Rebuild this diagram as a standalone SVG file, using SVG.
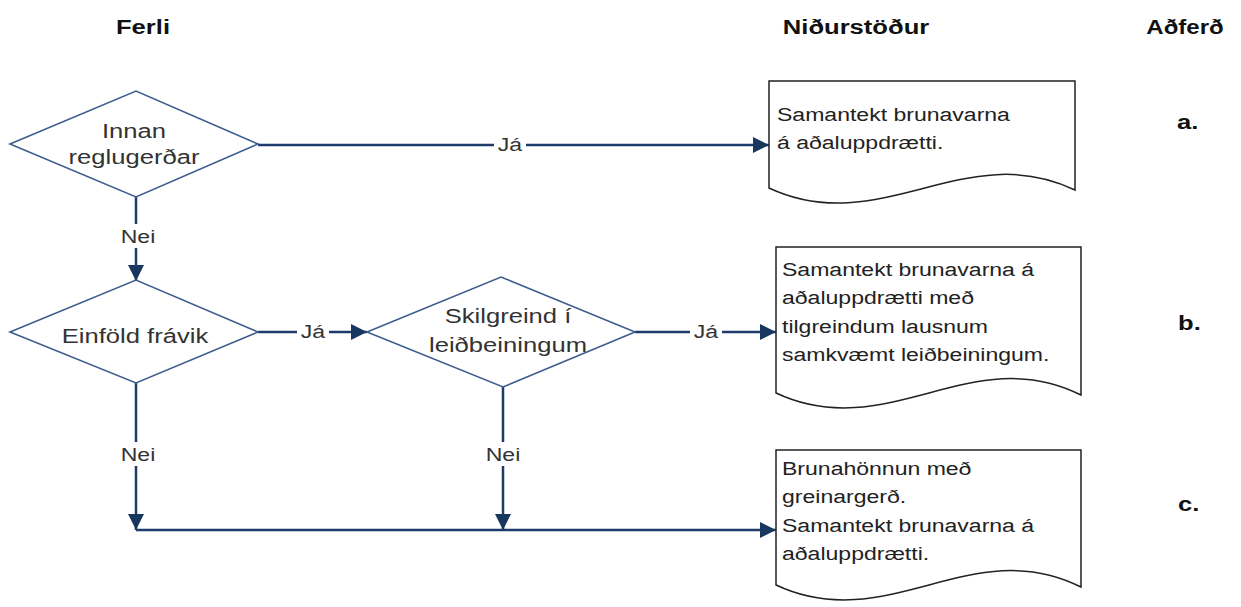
<svg xmlns="http://www.w3.org/2000/svg" width="1241" height="607" viewBox="0 0 1241 607">
  <style>
    .hdr { font-family: "Liberation Sans", Arial, sans-serif; font-weight: bold; font-size: 20px; fill: #111; }
    .ntx { font-family: "Liberation Sans", Arial, sans-serif; font-size: 20px; fill: #333; text-anchor: middle; }
    .dtx { font-family: "Liberation Sans", Arial, sans-serif; font-size: 18px; fill: #222; }
    .lbl { font-family: "Liberation Sans", Arial, sans-serif; font-size: 18px; fill: #333; text-anchor: middle; }
    .dia { fill: #fff; stroke: #3d5d8d; stroke-width: 1.6; }
    .doc { fill: #fff; stroke: #222; stroke-width: 1.5; }
    .con { fill: none; stroke: #1f3b6b; stroke-width: 2.5; }
    .gap { fill: #fff; }
  </style>
  <defs>
    <marker id="arrow" viewBox="0 0 10 10" refX="10" refY="5" markerWidth="7.8" markerHeight="6.4" markerUnits="strokeWidth" orient="auto">
      <path d="M0,0 L10,5 L0,10 Z" fill="#17375e"/>
    </marker>
  </defs>
  <rect width="1241" height="607" fill="#fff"/>

  <!-- column headings -->
  <g id="headings">
    <text class="hdr" text-anchor="middle" transform="translate(143,34) scale(1.28,1)">Ferli</text>
    <text class="hdr" text-anchor="middle" transform="translate(856,34) scale(1.28,1)">Niðurstöður</text>
    <text class="hdr" text-anchor="middle" transform="translate(1185,34) scale(1.2,1)">Aðferð</text>
  </g>

  <!-- connectors -->
  <g id="connectors">
    <path class="con" d="M258,145 H769" marker-end="url(#arrow)"/>
    <path class="con" d="M136,197 V281" marker-end="url(#arrow)"/>
    <path class="con" d="M258,332 H367" marker-end="url(#arrow)"/>
    <path class="con" d="M635,332 H776" marker-end="url(#arrow)"/>
    <path class="con" d="M136,383 V530" marker-end="url(#arrow)"/>
    <path class="con" d="M503,387 V530" marker-end="url(#arrow)"/>
    <path class="con" d="M136,530 H776" marker-end="url(#arrow)"/>
    <!-- labels on connectors -->
    <rect class="gap" x="494" y="134" width="32" height="22"/>
    <text class="lbl" transform="translate(510,151) scale(1.28,1)">Já</text>
    <rect class="gap" x="297" y="321" width="32" height="22"/>
    <text class="lbl" transform="translate(313,338) scale(1.28,1)">Já</text>
    <rect class="gap" x="690" y="321" width="32" height="22"/>
    <text class="lbl" transform="translate(706,338) scale(1.28,1)">Já</text>
    <rect class="gap" x="119" y="224" width="38" height="24"/>
    <text class="lbl" transform="translate(138,243) scale(1.28,1)">Nei</text>
    <rect class="gap" x="119" y="442" width="38" height="24"/>
    <text class="lbl" transform="translate(138,461) scale(1.28,1)">Nei</text>
    <rect class="gap" x="484" y="442" width="38" height="24"/>
    <text class="lbl" transform="translate(503,461) scale(1.28,1)">Nei</text>
  </g>

  <!-- decision: within regulation -->
  <g id="d-innan">
    <polygon class="dia" points="10,144 136,91 258,144 136,197"/>
    <text class="ntx" transform="translate(134,138) scale(1.28,1)">Innan</text>
    <text class="ntx" transform="translate(134,164) scale(1.28,1)">reglugerðar</text>
  </g>

  <!-- decision: simple deviations -->
  <g id="d-einfold">
    <polygon class="dia" points="10,332 136,280 258,332 136,383"/>
    <text class="ntx" transform="translate(135,343) scale(1.28,1)">Einföld frávik</text>
  </g>

  <!-- decision: defined in guidelines -->
  <g id="d-skilgreind">
    <polygon class="dia" points="367,332 501,277 635,332 503,387"/>
    <text class="ntx" transform="translate(508,323) scale(1.28,1)">Skilgreind í</text>
    <text class="ntx" transform="translate(508,352) scale(1.28,1)">leiðbeiningum</text>
  </g>

  <!-- result documents -->
  <g id="doc-a">
    <path class="doc" d="M769,81 H1075 V190 C965,137 880,240 769,188 Z"/>
    <text class="dtx" transform="translate(777,121) scale(1.28,1)">Samantekt brunavarna</text>
    <text class="dtx" transform="translate(777,149) scale(1.28,1)">á aðaluppdrætti.</text>
  </g>

  <g id="doc-b">
    <path class="doc" d="M776,247 H1081 V395 C972,340 887,445 776,393 Z"/>
    <text class="dtx" transform="translate(782,276) scale(1.28,1)">Samantekt brunavarna á</text>
    <text class="dtx" transform="translate(782,304) scale(1.28,1)">aðaluppdrætti með</text>
    <text class="dtx" transform="translate(782,333) scale(1.28,1)">tilgreindum lausnum</text>
    <text class="dtx" transform="translate(782,361) scale(1.28,1)">samkvæmt leiðbeiningum.</text>
  </g>

  <g id="doc-c">
    <path class="doc" d="M776,450 H1081 V587 C972,532 887,637 776,585 Z"/>
    <text class="dtx" transform="translate(782,475) scale(1.28,1)">Brunahönnun með</text>
    <text class="dtx" transform="translate(782,503) scale(1.28,1)">greinargerð.</text>
    <text class="dtx" transform="translate(782,532) scale(1.28,1)">Samantekt brunavarna á</text>
    <text class="dtx" transform="translate(782,560) scale(1.28,1)">aðaluppdrætti.</text>
  </g>

  <!-- method letters -->
  <g id="methods">
    <text class="hdr" transform="translate(1177,129) scale(1.28,1)">a.</text>
    <text class="hdr" transform="translate(1178,330) scale(1.28,1)">b.</text>
    <text class="hdr" transform="translate(1178,511) scale(1.28,1)">c.</text>
  </g>
</svg>
